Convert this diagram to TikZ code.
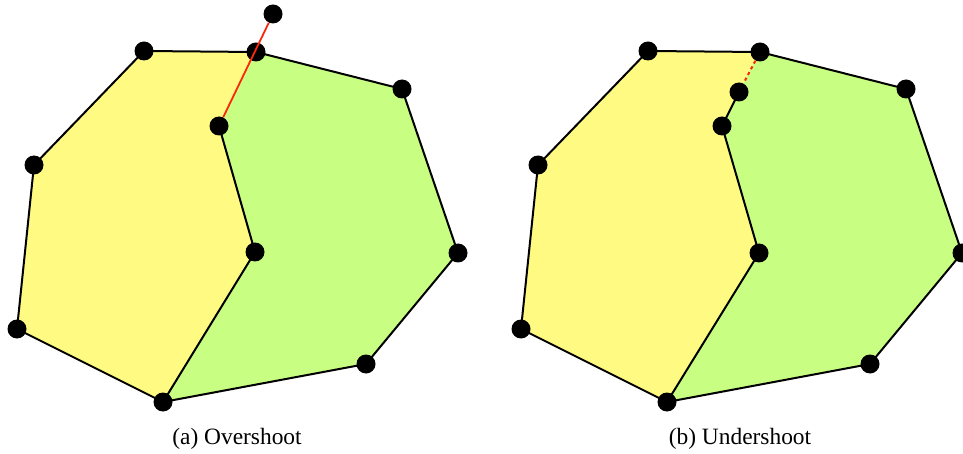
\documentclass[tikz,border=0pt]{standalone}
\usepackage{fontspec}
\setmainfont{Liberation Serif}
\definecolor{fillyellow}{RGB}{255,251,130}
\definecolor{fillgreen}{RGB}{200,255,130}
\definecolor{cutred}{RGB}{250,40,10}
\begin{document}
\begin{tikzpicture}[x=0.5pt,y=-0.5pt,
  dot/.style={circle,fill=black,inner sep=0pt,minimum size=9.5pt},
  edgeline/.style={line width=1pt,line join=round},
  redline/.style={line width=0.9pt,cutred},
  reddash/.style={line width=1pt,cutred,dash pattern=on 1.6pt off 1.6pt},
  caption/.style={font=\fontsize{11.7}{14}\selectfont,anchor=base}]
\path[use as bounding box,clip] (0,0) rectangle (963,454);
% left figure coordinates
\coordinate (aA) at (273,14);
\coordinate (aB) at (256,52);
\coordinate (aC) at (144,51);
\coordinate (aD) at (34,165);
\coordinate (aE) at (17,329);
\coordinate (aF) at (163,402);
\coordinate (aG) at (255,252);
\coordinate (aH) at (219,126);
\coordinate (aI) at (402,89);
\coordinate (aJ) at (458,253);
\coordinate (aK) at (366,364);
% right figure coordinates
\coordinate (bB) at (760,52);
\coordinate (bP) at (739,92);
\coordinate (bC) at (648,51);
\coordinate (bD) at (538,165);
\coordinate (bE) at (521,329);
\coordinate (bF) at (667,402);
\coordinate (bG) at (759,253);
\coordinate (bH) at (722,126);
\coordinate (bI) at (906,89);
\coordinate (bJ) at (962,253);
\coordinate (bK) at (870,364);
% fills
\fill[fillyellow] (aC) -- (aB) -- (aH) -- (aG) -- (aF) -- (aE) -- (aD) -- cycle;
\fill[fillgreen] (aB) -- (aI) -- (aJ) -- (aK) -- (aF) -- (aG) -- (aH) -- cycle;
\fill[fillyellow] (bC) -- (bB) -- (bP) -- (bH) -- (bG) -- (bF) -- (bE) -- (bD) -- cycle;
\fill[fillgreen] (bB) -- (bI) -- (bJ) -- (bK) -- (bF) -- (bG) -- (bH) -- (bP) -- cycle;
% edges left
\draw[edgeline] (aH) -- (aG) -- (aF) -- (aE) -- (aD) -- (aC) -- (aB) -- (aI) -- (aJ) -- (aK) -- (aF);
% edges right
\draw[edgeline] (bP) -- (bH) -- (bG) -- (bF) -- (bE) -- (bD) -- (bC) -- (bB) -- (bI) -- (bJ) -- (bK) -- (bF);
% dots
\foreach \n in {aA,aB,aC,aD,aE,aF,aG,aH,aI,aJ,aK,bB,bP,bC,bD,bE,bF,bG,bH,bI,bJ,bK}
  \node[dot] (d\n) at (\n) {};
% red cuts (drawn over the dot they cross)
\draw[redline] (daH) -- (daA);
\draw[reddash] (dbB) -- (dbP);
% captions
\node[caption] (capa) at (237,444) {(a) Overshoot};
\node[caption] (capb) at (740,444) {(b) Undershoot};
\end{tikzpicture}
\end{document}
